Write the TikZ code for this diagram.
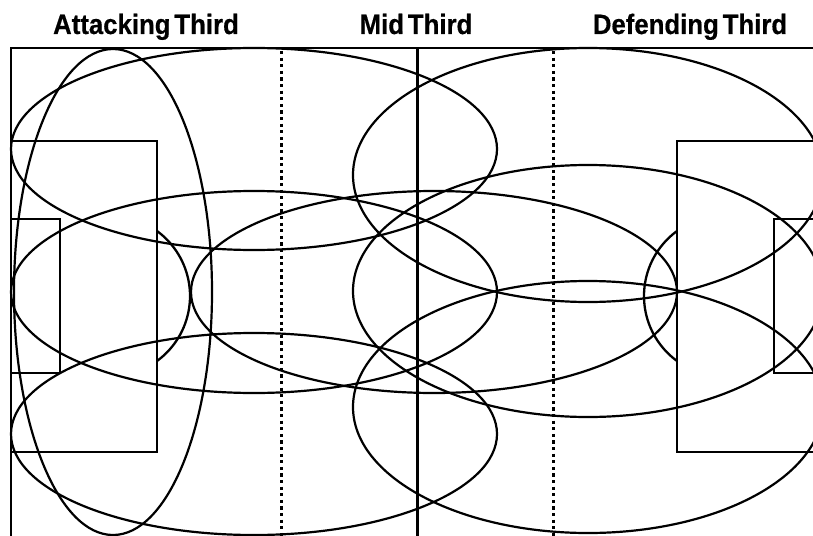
\documentclass[tikz,border=0pt]{standalone}
\usepackage{fontspec}
\setmainfont{Liberation Sans}
\newfontfamily\labfont[FakeStretch=0.92,FakeBold=0.5,WordSpace=0.55]{Liberation Sans Bold}
\begin{document}
\begin{tikzpicture}[x=1pt,y=-1pt,
  pitchline/.style={line width=2.3pt, black},
  zone/.style={line width=2.2pt, black},
  thirdline/.style={line width=2.6pt, black, dash pattern=on 3.2pt off 3.4pt},
  lab/.style={font=\labfont\fontsize{28}{30}\selectfont, anchor=base, inner sep=0pt}]
\useasboundingbox (0,0) rectangle (813,535);
\fill[white] (0,0) rectangle (813,535);
% labels
\node[lab] (att) at (146,34) {Attacking Third};
\node[lab] (mid) at (416,34) {Mid Third};
\node[lab] (def) at (690,34) {Defending Third};
\begin{scope}
\clip (0,0) rectangle (813,535);
% pitch
\draw[pitchline] (11,48) rectangle (823,544);
\draw[pitchline] (417.5,48) -- (417.5,544);
\draw[thirdline] (281.7,51) -- (281.7,544);
\draw[thirdline] (553.3,51) -- (553.3,544);
% left penalty and goal areas
\draw[pitchline] (11,141) rectangle (157,452);
\draw[pitchline] (11,219) rectangle (60,373);
\begin{scope}
\clip (157,0) rectangle (300,535);
\draw[pitchline] (109.5,296) circle[radius=80.5pt];
\end{scope}
% right penalty and goal areas
\draw[pitchline] (677,141) rectangle (823,452);
\draw[pitchline] (774,219) rectangle (823,373);
\begin{scope}
\clip (600,0) rectangle (677,535);
\draw[pitchline] (724.5,296) circle[radius=80.5pt];
\end{scope}
% zones
\draw[zone] (113,292) ellipse[x radius=99pt, y radius=243pt];
\draw[zone] (254,149) ellipse[x radius=243pt, y radius=101pt];
\draw[zone] (254,292) ellipse[x radius=243pt, y radius=101pt];
\draw[zone] (254,434) ellipse[x radius=243pt, y radius=101pt];
\draw[zone] (434,292) ellipse[x radius=243pt, y radius=101pt];
\draw[zone] (588,175) ellipse[x radius=235pt, y radius=127pt];
\draw[zone] (588,291) ellipse[x radius=235pt, y radius=126pt];
\draw[zone] (588,407) ellipse[x radius=235pt, y radius=126pt];
\end{scope}
\end{tikzpicture}
\end{document}
